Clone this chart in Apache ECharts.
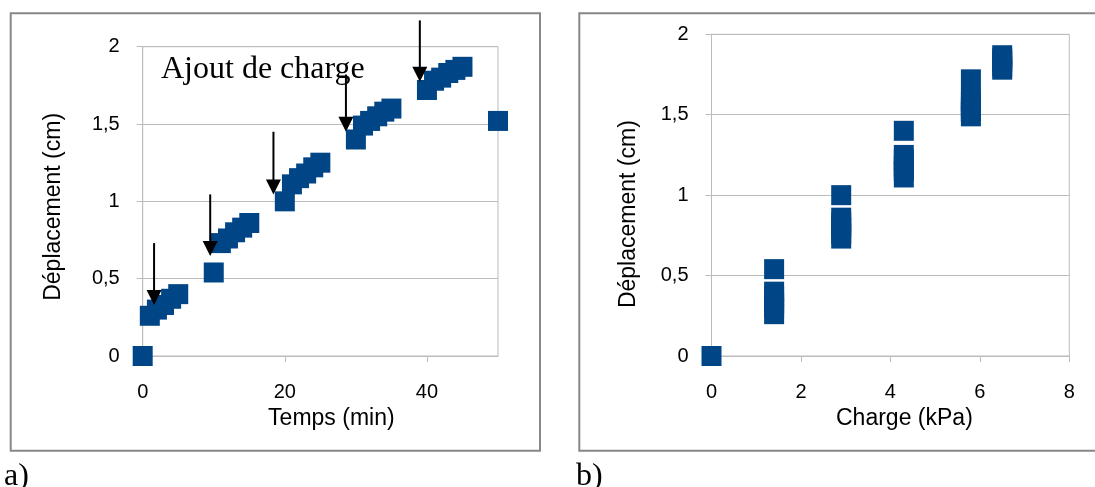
<!DOCTYPE html>
<html>
<head>
<meta charset="utf-8">
<script src="https://cdn.jsdelivr.net/npm/echarts@6/dist/echarts.min.js"></script>
<style>
html,body{margin:0;padding:0;background:#fff;}
#chart{width:1095px;height:487px;}
</style>
</head>
<body>
<div id="chart"></div>
<script>
// ---- Data ----
const timeMin = [0, 1, 2, 3, 4, 5, 10, 11, 12, 13, 14, 15, 20, 21, 22, 23, 24, 25, 30, 31, 32, 33, 34, 35, 40, 41, 42, 43, 44, 45, 50];
const displacementCm = [0, 0.26, 0.30, 0.33, 0.37, 0.40, 0.54, 0.73, 0.76, 0.80, 0.83, 0.86, 1.00, 1.11, 1.15, 1.18, 1.22, 1.25, 1.40, 1.49, 1.52, 1.55, 1.58, 1.60, 1.72, 1.78, 1.80, 1.83, 1.85, 1.87, 1.52];
const loadKPa = [0, 1.4, 1.4, 1.4, 1.4, 1.4, 1.4, 2.9, 2.9, 2.9, 2.9, 2.9, 2.9, 4.3, 4.3, 4.3, 4.3, 4.3, 4.3, 5.8, 5.8, 5.8, 5.8, 5.8, 5.8, 6.5, 6.5, 6.5, 6.5, 6.5, 5.8];

// arrows "Ajout de charge": time, start displacement, tip displacement
const arrowTime = [1.6, 9.5, 18.4, 28.6, 39.0];
const arrowFrom = [0.73, 1.045, 1.45, 1.82, 2.17];
const arrowTip = [0.33, 0.646, 1.045, 1.45, 1.773];

const xTicksA = [0, 20, 40];
const xTickLabelsA = ['0', '20', '40'];
const xTicksB = [0, 2, 4, 6, 8];
const xTickLabelsB = ['0', '2', '4', '6', '8'];
const yTicks = [0, 0.5, 1, 1.5, 2];
const yTickLabels = ['0', '0,5', '1', '1,5', '2'];

const titleYA = 'Déplacement (cm)';
const titleXA = 'Temps (min)';
const titleYB = 'Déplacement (cm)';
const titleXB = 'Charge (kPa)';
const annotation = 'Ajout de charge';
const panelA = 'a)';
const panelB = 'b)';

// ---- Styles ----
const SANS = 'Liberation Sans, Arial, sans-serif';
const SERIF = 'Liberation Serif, Times New Roman, serif';
const GRIDC = '#bcbcbc';
const BLUE = '#004586';
const TITLE_SIZE = 23;

function lab(ticks, labels) {
  return function (v) {
    for (let i = 0; i < ticks.length; i++) if (Math.abs(ticks[i] - v) < 1e-9) return labels[i];
    return '';
  };
}

function xAxisCfg(gridIndex, max, interval, ticks, labels, name, padLeft) {
  return {
    type: 'value', gridIndex: gridIndex, min: 0, max: max, interval: interval,
    name: name, nameLocation: 'middle', nameGap: 46,
    nameTextStyle: { fontFamily: SANS, fontSize: TITLE_SIZE, color: '#000', padding: [0, 0, 0, padLeft] },
    axisLine: { show: true, onZero: false, lineStyle: { color: GRIDC, width: 1 } },
    axisTick: { show: true, length: 6, customValues: ticks, lineStyle: { color: GRIDC } },
    axisLabel: { customValues: ticks, formatter: lab(ticks, labels), fontFamily: SANS, fontSize: 20, color: '#000', margin: 26 },
    splitLine: { show: false }
  };
}
function yAxisCfg(gridIndex, name, nameGap, padRight) {
  return {
    type: 'value', gridIndex: gridIndex, min: 0, max: 2, interval: 0.5,
    name: name, nameLocation: 'middle', nameGap: nameGap, nameRotate: 90,
    nameTextStyle: { fontFamily: SANS, fontSize: TITLE_SIZE, color: '#000', padding: [0, padRight, 0, 0] },
    axisLine: { show: true, onZero: false, lineStyle: { color: GRIDC, width: 1 } },
    axisTick: { show: true, length: 6, lineStyle: { color: GRIDC } },
    axisLabel: { formatter: lab(yTicks, yTickLabels), fontFamily: SANS, fontSize: 20, color: '#000', margin: 23 },
    splitLine: { show: true, lineStyle: { color: GRIDC, width: 1 } }
  };
}

const seriesA = timeMin.map((t, i) => [t, displacementCm[i]]);
const seriesB = loadKPa.map((l, i) => [l, displacementCm[i]]);
const arrowData = arrowTime.map((t, i) => [t, arrowFrom[i], arrowTip[i]]);

function renderArrow(params, api) {
  const x = api.value(0);
  const p1 = api.coord([x, api.value(1)]);
  const p2 = api.coord([x, api.value(2)]);
  const head = 15, half = 7.5;
  return {
    type: 'group',
    children: [
      { type: 'line', shape: { x1: p1[0], y1: p1[1], x2: p2[0], y2: p2[1] - head + 2 }, style: { stroke: '#000', lineWidth: 2 } },
      { type: 'polygon', shape: { points: [[p2[0], p2[1]], [p2[0] - half, p2[1] - head], [p2[0] + half, p2[1] - head]] }, style: { fill: '#000' } }
    ]
  };
}

const chart = echarts.init(document.getElementById('chart'), null, { renderer: 'canvas' });
chart.setOption({
  animation: false,
  backgroundColor: '#ffffff',
  grid: [
    { left: 142.7, top: 46.7, width: 355.3, height: 309.3, show: true, borderColor: GRIDC, borderWidth: 1, backgroundColor: 'transparent', outerBoundsMode: 'none' },
    { left: 711.5, top: 34.3, width: 357.8, height: 321.7, show: true, borderColor: GRIDC, borderWidth: 1, backgroundColor: 'transparent', outerBoundsMode: 'none' }
  ],
  xAxis: [
    xAxisCfg(0, 50, 20, xTicksA, xTickLabelsA, titleXA, 22),
    xAxisCfg(1, 8, 2, xTicksB, xTickLabelsB, titleXB, 28)
  ],
  yAxis: [
    yAxisCfg(0, titleYA, 78, 11),
    yAxisCfg(1, titleYB, 71, 38)
  ],
  series: [
    {
      type: 'scatter', xAxisIndex: 0, yAxisIndex: 0, data: seriesA,
      symbol: 'rect', symbolSize: 20, clip: false,
      itemStyle: { color: BLUE, opacity: 1 }, silent: true, z: 2
    },
    {
      type: 'custom', xAxisIndex: 0, yAxisIndex: 0, data: arrowData,
      encode: { x: 0, y: [1, 2] }, renderItem: renderArrow, clip: false, silent: true, z: 5
    },
    {
      type: 'scatter', xAxisIndex: 1, yAxisIndex: 1, data: seriesB,
      symbol: 'rect', symbolSize: 20, clip: false,
      itemStyle: { color: BLUE, opacity: 1 }, silent: true, z: 2
    }
  ],
  graphic: [
    { type: 'rect', shape: { x: 10.7, y: 13.3, width: 529.3, height: 437.4 }, style: { fill: 'none', stroke: '#888', lineWidth: 2 }, z: 0, silent: true },
    { type: 'rect', shape: { x: 579.3, y: 13.3, width: 600, height: 437.4 }, style: { fill: 'none', stroke: '#888', lineWidth: 2 }, z: 0, silent: true },
    { type: 'text', left: 161, top: 54, style: { text: annotation, font: '32px ' + SERIF, fill: '#000' }, z: 10, silent: true },
    { type: 'text', left: 4, top: 461, style: { text: panelA, font: '32px ' + SERIF, fill: '#000' }, silent: true },
    { type: 'text', left: 576, top: 461, style: { text: panelB, font: '32px ' + SERIF, fill: '#000' }, silent: true }
  ]
});
</script>
</body>
</html>
